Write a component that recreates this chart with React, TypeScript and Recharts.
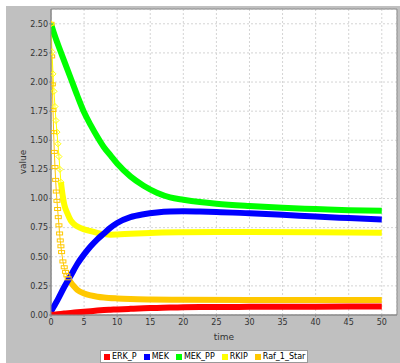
import { LineChart, Line, XAxis, YAxis, CartesianGrid, ReferenceArea } from 'recharts';

const timeTicks = [0, 5, 10, 15, 20, 25, 30, 35, 40, 45, 50];
const valueTicks = [0, 0.25, 0.5, 0.75, 1, 1.25, 1.5, 1.75, 2, 2.25, 2.5];

// shared time points for the smooth series
const seriesTime = [0, 0.5, 1, 2, 3, 4, 5, 6, 7, 8, 9, 10, 12, 14, 16, 18, 20, 22.5, 25, 30, 35, 40, 45, 50];
const erkP = [0, 0.003, 0.006, 0.012, 0.018, 0.023, 0.028, 0.033, 0.038, 0.042, 0.045, 0.048, 0.053, 0.058, 0.061, 0.064, 0.066, 0.068, 0.069, 0.07, 0.071, 0.071, 0.072, 0.072];
const mek = [0.03, 0.08, 0.13, 0.24, 0.34, 0.44, 0.52, 0.59, 0.65, 0.7, 0.75, 0.79, 0.84, 0.865, 0.88, 0.888, 0.89, 0.888, 0.885, 0.873, 0.86, 0.845, 0.832, 0.82];
const mekPP = [2.5, 2.41, 2.33, 2.18, 2.03, 1.88, 1.74, 1.63, 1.53, 1.44, 1.37, 1.3, 1.19, 1.11, 1.05, 1.01, 0.99, 0.97, 0.955, 0.935, 0.92, 0.91, 0.9, 0.895];

// RKIP: steep start drawn with visible markers, then the dense band
const rkipEarlyTime = [0, 0.15, 0.3, 0.45, 0.6, 0.75, 0.9, 1.05, 1.2, 1.35, 1.5];
const rkipEarly = [2.5, 2.26, 2.07, 1.92, 1.79, 1.67, 1.57, 1.47, 1.36, 1.25, 1.14];
const rkipLateTime = [1.5, 1.75, 2, 2.5, 3, 3.5, 4, 5, 6, 7, 8, 9, 10, 12, 15, 20, 25, 30, 40, 50];
const rkipLate = [1.14, 1.03, 0.95, 0.87, 0.81, 0.78, 0.76, 0.735, 0.72, 0.705, 0.695, 0.69, 0.692, 0.698, 0.705, 0.71, 0.712, 0.712, 0.71, 0.707];

// Raf_1_Star
const rafEarlyTime = [0, 0.1, 0.2, 0.3, 0.4, 0.5, 0.6, 0.7, 0.8, 0.9, 1.0, 1.1, 1.2, 1.3, 1.4, 1.5, 1.6, 1.8, 2.0, 2.2, 2.4, 2.6];
const rafEarly = [2.5, 2.22, 1.98, 1.76, 1.57, 1.4, 1.27, 1.16, 1.06, 0.98, 0.91, 0.84, 0.77, 0.7, 0.64, 0.59, 0.54, 0.46, 0.41, 0.37, 0.34, 0.315];
const rafLateTime = [2.6, 3, 3.5, 4, 5, 6, 7, 8, 10, 12, 15, 20, 30, 40, 50];
const rafLate = [0.315, 0.28, 0.245, 0.215, 0.185, 0.168, 0.157, 0.15, 0.142, 0.137, 0.133, 0.13, 0.129, 0.129, 0.129];

const legendItems = [
  { name: 'ERK_P', color: '#ff0000' },
  { name: 'MEK', color: '#0000ff' },
  { name: 'MEK_PP', color: '#00ff00' },
  { name: 'RKIP', color: '#ffff00' },
  { name: 'Raf_1_Star', color: '#ffc800' },
];

const zip = (ts: number[], vs: number[]) => ts.map((t, i) => ({ t, v: vs[i] }));

const font = 'DejaVu Sans';
const axisColor = '#888888';

const DiamondDot = (props: any) => {
  const { cx, cy, index } = props;
  return (
    <path
      key={`d-${index}`}
      d={`M${cx},${cy - 3}L${cx + 3},${cy}L${cx},${cy + 3}L${cx - 3},${cy}Z`}
      fill="none"
      stroke="#ffff00"
      strokeWidth={1}
    />
  );
};

const RectDot = (props: any) => {
  const { cx, cy, index } = props;
  return <rect key={`r-${index}`} x={cx - 3} y={cy - 1.5} width={6} height={3} fill="none" stroke="#ffc800" strokeWidth={1} />;
};

const ValueLabel = (props: any) => {
  const { viewBox } = props;
  const x = viewBox.x + 12;
  const y = viewBox.y + viewBox.height / 2;
  return (
    <text x={x} y={y} transform={`rotate(-90, ${x}, ${y})`} textAnchor="middle" dominantBaseline="central" fontSize={9} fontFamily={font} fill="#333">
      value
    </text>
  );
};

export default function App() {
  return (
    <div style={{ position: 'fixed', left: 0, top: 0, width: 400, height: 363, background: '#ffffff' }}>
      <div style={{ position: 'absolute', left: 6, top: 6, width: 394, height: 357, background: '#c0c0c0' }}>
        <LineChart width={394} height={357} margin={{ top: 3, right: 3, left: 5, bottom: 18 }} style={{ fontFamily: font }}>
          <CartesianGrid strokeDasharray="2 2" stroke="#d4d4d4" fill="#ffffff" />
          <XAxis
            type="number"
            dataKey="t"
            domain={[0, 52.3]}
            ticks={timeTicks}
            allowDataOverflow
            height={30}
            tickSize={2}
            tickMargin={2}
            stroke={axisColor}
            tick={{ fill: '#333', fontSize: 8, fontFamily: font }}
            label={{ value: 'time', position: 'insideBottom', offset: 5, fill: '#333', fontSize: 9, fontFamily: font }}
          />
          <YAxis
            type="number"
            domain={[0, 2.627]}
            ticks={valueTicks}
            allowDataOverflow
            width={40}
            tickSize={2}
            tickMargin={1}
            stroke={axisColor}
            tickFormatter={(v: number) => v.toFixed(2)}
            tick={{ fill: '#333', fontSize: 8, fontFamily: font }}
            label={<ValueLabel />}
          />
          <ReferenceArea x1={0} x2={52.3} y1={0} y2={2.627} fill="none" stroke={axisColor} strokeWidth={1} />
          <Line data={zip(rafLateTime, rafLate)} dataKey="v" type="monotone" stroke="#ffc800" strokeWidth={6} dot={false} isAnimationActive={false} />
          <Line data={zip(rafEarlyTime, rafEarly)} dataKey="v" type="linear" stroke="#ffc800" strokeWidth={1} dot={RectDot} isAnimationActive={false} />
          <Line data={zip(rkipLateTime, rkipLate)} dataKey="v" type="monotone" stroke="#ffff00" strokeWidth={6} dot={false} isAnimationActive={false} />
          <Line data={zip(rkipEarlyTime, rkipEarly)} dataKey="v" type="linear" stroke="#ffff00" strokeWidth={1} dot={DiamondDot} isAnimationActive={false} />
          <Line data={zip(seriesTime, mekPP)} dataKey="v" type="monotone" stroke="#00ff00" strokeWidth={6} dot={false} isAnimationActive={false} />
          <Line data={zip(seriesTime, mek)} dataKey="v" type="monotone" stroke="#0000ff" strokeWidth={6} dot={false} isAnimationActive={false} />
          <Line data={zip(seriesTime, erkP)} dataKey="v" type="monotone" stroke="#ff0000" strokeWidth={6} dot={false} isAnimationActive={false} />
        </LineChart>
        <div
          style={{
            position: 'absolute',
            left: 94,
            top: 344,
            height: 11,
            background: '#ffffff',
            border: '1px solid #999',
            display: 'flex',
            alignItems: 'center',
            padding: '0 2px 0 3px',
            fontFamily: font,
            fontSize: 8,
            color: '#000',
            whiteSpace: 'nowrap',
            boxSizing: 'content-box',
          }}
        >
          {legendItems.map((item, i) => (
            <div key={item.name} style={{ display: 'flex', alignItems: 'center', marginRight: i < legendItems.length - 1 ? 7 : 0 }}>
              <span style={{ display: 'inline-block', width: 6, height: 6, background: item.color, marginRight: 2 }} />
              <span>{item.name}</span>
            </div>
          ))}
        </div>
      </div>
    </div>
  );
}
